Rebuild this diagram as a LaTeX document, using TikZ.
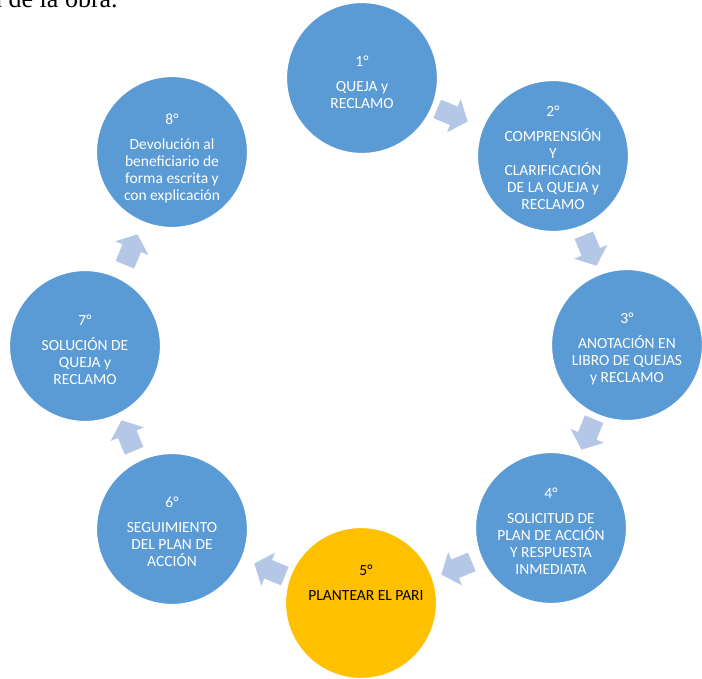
\documentclass[tikz,border=0pt]{standalone}
\usepackage{fontspec}
\setmainfont{Carlito}
\newfontfamily\docserif{Liberation Serif}
\definecolor{cblue}{HTML}{5B9BD5}
\definecolor{cyel}{HTML}{FFC000}
\definecolor{carr}{HTML}{B4C7E7}
\newcommand\cycarrow[4]{% x, y, direction angle, name
  \coordinate (#4) at (#1,#2);
  \fill[carr, shift={(#4)}, rotate=#3] (-16,-10) -- (2,-10) -- (2,-18) -- (17,0) -- (2,18) -- (2,10) -- (-16,10) -- cycle;}
\begin{document}
\begin{tikzpicture}[x=1pt,y=-1pt,
  stage/.style={circle, fill=cblue, draw=white, line width=1.2pt, minimum size=151pt, inner sep=0pt},
  stageyel/.style={stage, fill=cyel},
  stagetext/.style={align=center, text=white, font=\fontsize{15.5}{17}\selectfont, inner sep=0pt},
  stagetextdark/.style={stagetext, text=black}]
\useasboundingbox (0,0) rectangle (702,678);
\clip (0,0) rectangle (702,678);
\node[anchor=base west, font=\docserif\fontsize{26}{30}\selectfont, inner sep=0pt] (prev) at (-11,7) {n de la obra.};
% circles
\node[stage] (c1) at (362,78) {};
\node[stage] (c2) at (553,156) {};
\node[stage] (c3) at (627,345) {};
\node[stage] (c4) at (551,528) {};
\node[stageyel] (c5) at (361,603) {};
\node[stage] (c6) at (172,529) {};
\node[stage] (c7) at (85,346) {};
\node[stage] (c8) at (172,152) {};
% texts
\node[stagetext] (t1) at (362,82) {1°\\[8pt]QUEJA y\\RECLAMO};
\node[stagetext] (t2) at (553,158) {2°\\[8pt]COMPRENSIÓN\\Y\\CLARIFICACIÓN\\DE LA QUEJA y\\RECLAMO};
\node[stagetext] (t3) at (627,349) {3°\\[8pt]ANOTACIÓN EN\\LIBRO DE QUEJAS\\y RECLAMO};
\node[stagetext] (t4) at (551,531) {4°\\[8pt]SOLICITUD DE\\PLAN DE ACCIÓN\\Y RESPUESTA\\INMEDIATA};
\node[stagetextdark] (t5) at (366,583) {5°\\[8pt]PLANTEAR EL PARI};
\node[stagetext] (t6) at (172,532) {6°\\[8pt]SEGUIMIENTO\\DEL PLAN DE\\ACCIÓN};
\node[stagetext] (t7) at (85,350) {7°\\[8pt]SOLUCIÓN DE\\QUEJA y\\RECLAMO};
\node[stagetext] (t8) at (172,158) {8°\\[8pt]Devolución al\\beneficiario de\\forma escrita y\\con explicación};
% arrows
\cycarrow{452}{115}{-22.5}{a12}
\cycarrow{590}{250}{-67.5}{a23}
\cycarrow{588}{434}{-112.5}{a34}
\cycarrow{457}{568}{-157.5}{a45}
\cycarrow{270}{570}{157.5}{a56}
\cycarrow{128}{436}{112.5}{a67}
\cycarrow{131}{250}{67.5}{a78}
\end{tikzpicture}
\end{document}
